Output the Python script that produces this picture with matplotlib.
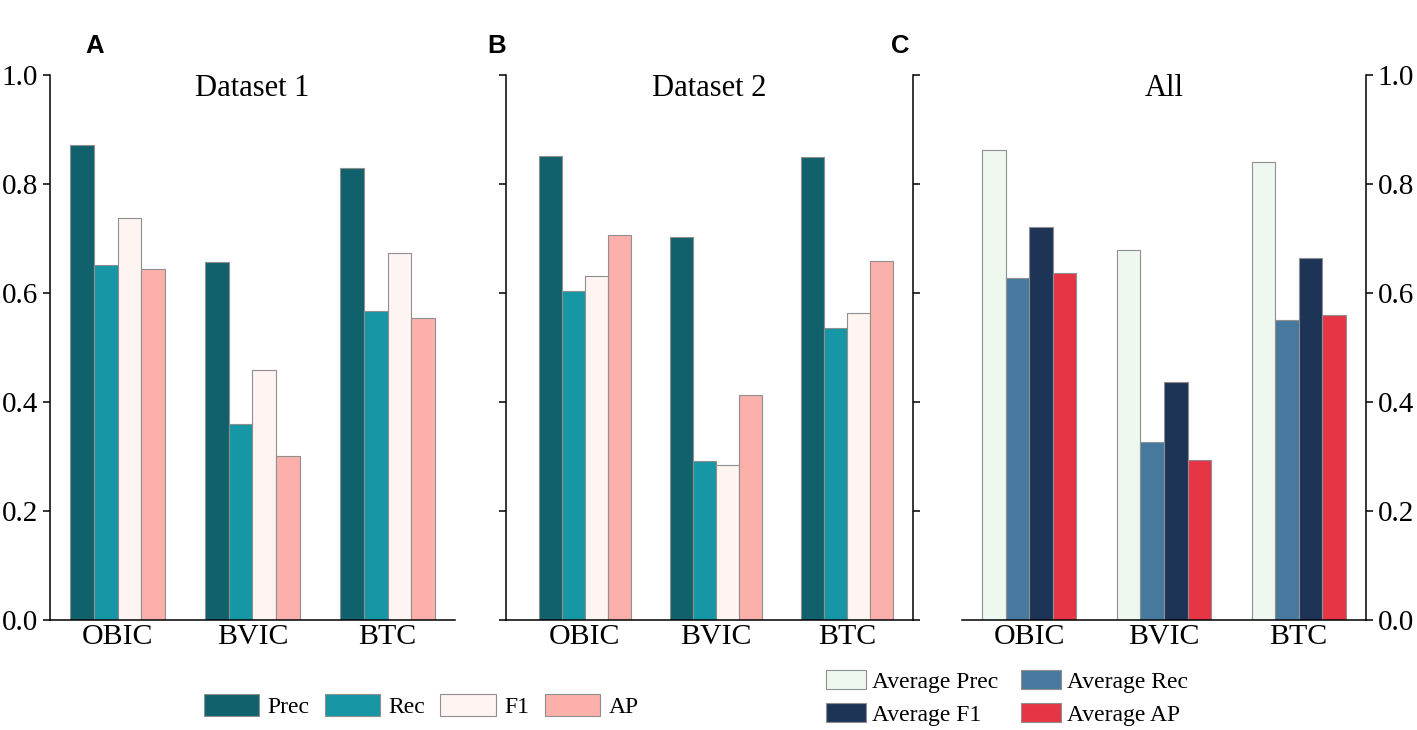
import numpy as np
import matplotlib
matplotlib.use("Agg")
import matplotlib.pyplot as plt
from matplotlib.patches import Patch

plt.rcParams["font.family"] = ["Liberation Serif", "DejaVu Serif"]

categories = ["OBIC", "BVIC", "BTC"]

# Dataset 1
d1_prec = [0.872, 0.656, 0.830]
d1_rec = [0.651, 0.360, 0.567]
d1_f1 = [0.737, 0.459, 0.673]
d1_ap = [0.644, 0.301, 0.554]

# Dataset 2
d2_prec = [0.852, 0.703, 0.850]
d2_rec = [0.603, 0.291, 0.535]
d2_f1 = [0.632, 0.285, 0.563]
d2_ap = [0.707, 0.412, 0.658]

# All (averages)
avg_prec = [0.862, 0.679, 0.840]
avg_rec = [0.627, 0.327, 0.551]
avg_f1 = [0.721, 0.436, 0.665]
avg_ap = [0.637, 0.293, 0.559]

metric_names = ["Prec", "Rec", "F1", "AP"]
avg_names = ["Average Prec", "Average Rec", "Average F1", "Average AP"]
metric_colors = ["#10616B", "#1797A6", "#FEF4F2", "#FCB0AB"]
avg_colors = ["#EFF8EE", "#46799D", "#1E3456", "#E63646"]
edge = "#8f8f8f"

W, H = 1417, 730
fig = plt.figure(figsize=(W / 100, H / 100), dpi=100)

bottom = (H - 620) / H
height = 545 / H
ax_a = fig.add_axes([50 / W, bottom, 405 / W, height])
ax_b = fig.add_axes([506 / W, bottom, 407 / W, height])
ax_c = fig.add_axes([962 / W, bottom, 404 / W, height])

x = np.arange(len(categories))
bw = 0.175


def draw_panel(ax, series, colors, title, xlim):
    for i, (vals, col) in enumerate(zip(series, colors)):
        ax.bar(x + (i - 1.5) * bw, vals, width=bw, color=col,
               edgecolor=edge, linewidth=0.8, zorder=2)
    ax.set_xlim(*xlim)
    ax.set_ylim(0, 1.0)
    ax.set_xticks(x)
    ax.set_xticklabels(categories, fontsize=21.5)
    ax.tick_params(axis="x", direction="in", length=5, width=1.1, pad=3)
    ax.tick_params(axis="y", direction="out", length=5, width=1.1, labelsize=21)
    ax.set_yticks(np.arange(0, 1.01, 0.2))
    ax.set_yticklabels([f"{v:.1f}" for v in np.arange(0, 1.01, 0.2)])
    for s in ax.spines.values():
        s.set_linewidth(1.1)
    ax.spines["top"].set_visible(False)
    ax.text(0.5, 0.975, title, transform=ax.transAxes, ha="center",
            va="center", fontsize=22)


draw_panel(ax_a, [d1_prec, d1_rec, d1_f1, d1_ap], metric_colors, "Dataset 1", (-0.5, 2.5))
ax_a.spines["right"].set_visible(False)

draw_panel(ax_b, [d2_prec, d2_rec, d2_f1, d2_ap], metric_colors, "Dataset 2", (-0.6, 2.5))
ax_b.tick_params(axis="y", left=True, right=True, labelleft=False, labelright=False)

draw_panel(ax_c, [avg_prec, avg_rec, avg_f1, avg_ap], avg_colors, "All", (-0.5, 2.5))
ax_c.spines["left"].set_visible(False)
ax_c.tick_params(axis="y", left=False, right=True, labelleft=False, labelright=True)

# panel letters
for lbl, px in zip(["A", "B", "C"], [95, 497, 900]):
    fig.text(px / W, 1 - 46 / H, lbl, ha="center", va="center", fontsize=18.5,
             fontweight="bold", family="Liberation Sans")

# legends
h1 = [Patch(facecolor=c, edgecolor=edge, linewidth=0.8) for c in metric_colors]
fig.legend(h1, metric_names, loc="center", bbox_to_anchor=(421 / W, 1 - 706 / H),
           ncol=4, frameon=False, fontsize=17, handlelength=2.35,
           handleheight=1.1, handletextpad=0.35, columnspacing=0.65,
           borderpad=0, borderaxespad=0)

# matplotlib fills legend columns first, so reorder to get row-wise layout
h2 = [Patch(facecolor=c, edgecolor=edge, linewidth=0.8) for c in avg_colors]
order = [0, 2, 1, 3]
fig.legend([h2[i] for i in order], [avg_names[i] for i in order], loc="center",
           bbox_to_anchor=(1007 / W, 1 - 698 / H),
           ncol=2, frameon=False, fontsize=17, handlelength=1.7,
           handleheight=0.85, handletextpad=0.25, columnspacing=0.95,
           labelspacing=0.45, borderpad=0, borderaxespad=0)

fig.savefig("out.png", dpi=100)
